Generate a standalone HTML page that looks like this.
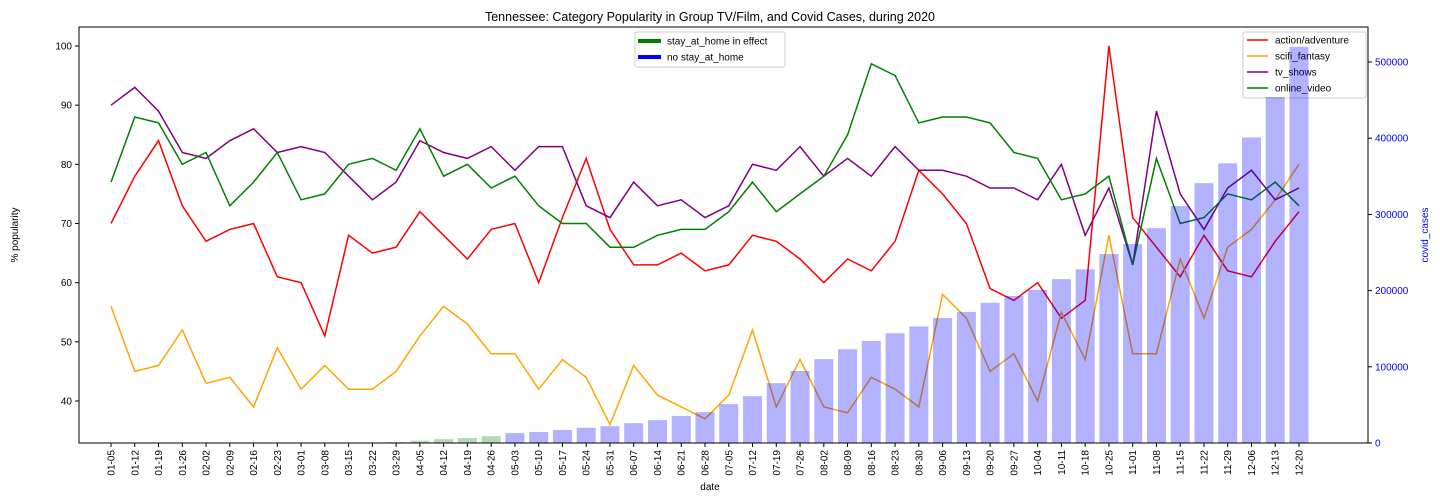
<!DOCTYPE html>
<html><head><meta charset="utf-8"><style>
body{margin:0;background:#fff;}
svg{display:block;font-family:"Liberation Sans","DejaVu Sans",sans-serif;}
</style></head><body>
<svg id="chart" width="1440" height="504">
</svg>
<script>
const dates=["01-05","01-12","01-19","01-26","02-02","02-09","02-16","02-23","03-01","03-08","03-15","03-22","03-29","04-05","04-12","04-19","04-26","05-03","05-10","05-17","05-24","05-31","06-07","06-14","06-21","06-28","07-05","07-12","07-19","07-26","08-02","08-09","08-16","08-23","08-30","09-06","09-13","09-20","09-27","10-04","10-11","10-18","10-25","11-01","11-08","11-15","11-22","11-29","12-06","12-13","12-20"];
const action=[70,78,84,73,67,69,70,61,60,51,68,65,66,72,68,64,69,70,60,71,81,69,63,63,65,62,63,68,67,64,60,64,62,67,79,75,70,59,57,60,54,57,100,71,66,61,68,62,61,67,72];
const scifi=[56,45,46,52,43,44,39,49,42,46,42,42,45,51,56,53,48,48,42,47,44,36,46,41,39,37,41,52,39,47,39,38,44,42,39,58,54,45,48,40,55,47,68,48,48,64,54,66,69,74,80];
const tvShows=[90,93,89,82,81,84,86,82,83,82,78,74,77,84,82,81,83,79,83,83,73,71,77,73,74,71,73,80,79,83,78,81,78,83,79,79,78,76,76,74,80,68,76,63,89,75,69,76,79,74,76];
const onlineVideo=[77,88,87,80,82,73,77,82,74,75,80,81,79,86,78,80,76,78,73,70,70,66,66,68,69,69,72,77,72,75,78,85,97,95,87,88,88,87,82,81,74,75,78,63,81,70,71,75,74,77,73];
const covidCases=[0,0,0,0,0,0,0,0,0,0,0,0,1000,3000,5000,6500,9000,13000,14500,17000,20000,22000,26000,30000,35500,40500,51000,61500,78500,94500,110000,123000,134000,144000,153000,164000,172000,184000,193000,201000,215000,228000,248000,261000,282000,311000,341000,367000,401000,454000,520000];
const stayAtHome=[0,0,0,0,0,0,0,0,0,0,0,0,0,1,1,1,1,0,0,0,0,0,0,0,0,0,0,0,0,0,0,0,0,0,0,0,0,0,0,0,0,0,0,0,0,0,0,0,0,0,0];
const leftTicks=[40,50,60,70,80,90,100];
const rightTicks=[0,100000,200000,300000,400000,500000];

const NS="http://www.w3.org/2000/svg";
const svg=document.getElementById('chart');
const L=79,R=1368,T=27,B=443;
const xs=i=>111+i*(1188/(dates.length-1));
const yl=v=>46+(100-v)*(355/60);
const yr=v=>443-v*(381/500000);
function mk(tag,attrs,parent){const e=document.createElementNS(NS,tag);for(const k in attrs)e.setAttribute(k,attrs[k]);(parent||svg).appendChild(e);return e;}

let t=mk('text',{x:710,y:21,'text-anchor':'middle','font-size':12.5,fill:'#000'});t.textContent='Tennessee: Category Popularity in Group TV/Film, and Covid Cases, during 2020';



const series=[[action,'red','action-line'],[scifi,'orange','scifi-line'],[tvShows,'purple','tv-shows-line'],[onlineVideo,'green','online-video-line']];
series.forEach(([d,c,n])=>{
  const p=mk('polyline',{points:d.map((v,i)=>xs(i).toFixed(1)+','+yl(v).toFixed(1)).join(' '),fill:'none',stroke:c,'stroke-width':1.5});
  
  
});

// legend 1 (drawn before bars, so bars overlap it)
let g=mk('g',{});


mk('rect',{x:1243,y:32,width:123,height:66,rx:2,fill:'#fff','fill-opacity':0.8,stroke:'#ccc'},g);
[['action/adventure','red'],['scifi_fantasy','orange'],['tv_shows','purple'],['online_video','green']].forEach(([n,c],i)=>{
  const y=40+i*16;
  mk('line',{x1:1247,x2:1268,y1:y,y2:y,stroke:c,'stroke-width':1.5},g);
  const tx=mk('text',{x:1275,y:y+3.5,'font-size':10},g);tx.textContent=n;
  
  
});

const bw=1188/(dates.length-1)*0.8;
covidCases.forEach((v,i)=>{
  if(v<=0)return;
  const r=mk('rect',{x:xs(i)-bw/2,y:yr(v),width:bw,height:B-yr(v),fill:stayAtHome[i]?'green':'blue','fill-opacity':0.3});
  
  
});

const f=mk('rect',{x:L,y:T,width:R-L,height:B-T,fill:'none',stroke:'#000','stroke-width':1});



dates.forEach((d,i)=>{
  mk('line',{x1:xs(i),x2:xs(i),y1:B,y2:B+4,stroke:'#000'});
  const tx=mk('text',{x:0,y:0,'font-size':10,'text-anchor':'end',transform:`translate(${xs(i)+3.5},${B+7}) rotate(-90)`});
  tx.textContent=d;
  
  
});
leftTicks.forEach(v=>{
  mk('line',{x1:L-4,x2:L,y1:yl(v),y2:yl(v),stroke:'#000'});
  const tx=mk('text',{x:L-7,y:yl(v)+3.5,'font-size':10,'text-anchor':'end'});
  tx.textContent=v;
  
  
});
rightTicks.forEach(v=>{
  mk('line',{x1:R,x2:R+4,y1:yr(v),y2:yr(v),stroke:'#000'});
  const tx=mk('text',{x:R+7,y:yr(v)+3.5,'font-size':10,fill:'blue'});
  tx.textContent=v;
  
  
});
let a=mk('text',{x:0,y:0,'font-size':10,'text-anchor':'middle',transform:'translate(18,235) rotate(-90)'});a.textContent='% popularity';


a=mk('text',{x:0,y:0,'font-size':10,'text-anchor':'middle',fill:'blue',transform:'translate(1428,235) rotate(-90)'});a.textContent='covid_cases';


a=mk('text',{x:710,y:490,'font-size':10,'text-anchor':'middle'});a.textContent='date';



g=mk('g',{});


mk('rect',{x:635,y:32,width:150,height:35,rx:2,fill:'#fff','fill-opacity':0.8,stroke:'#ccc'},g);
[['stay_at_home in effect','green'],['no stay_at_home','blue']].forEach(([n,c],i)=>{
  const y=41+i*16;
  mk('line',{x1:638,x2:661,y1:y,y2:y,stroke:c,'stroke-width':4},g);
  const tx=mk('text',{x:667,y:y+3.5,'font-size':10},g);tx.textContent=n;
  
  
});
</script>
</body></html>
